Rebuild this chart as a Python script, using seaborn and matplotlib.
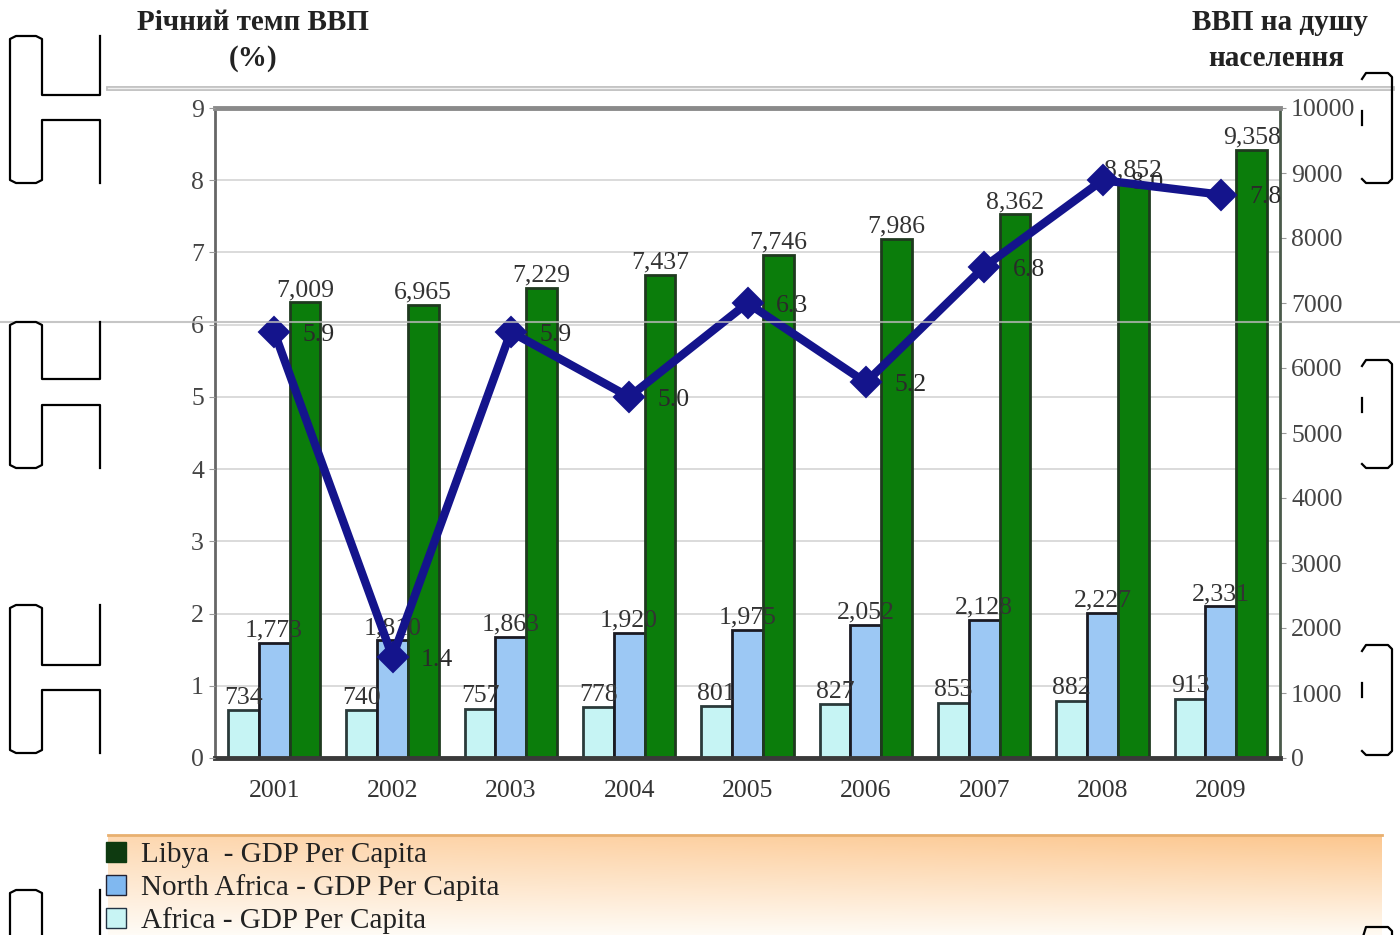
import numpy as np
import pandas as pd
import matplotlib
matplotlib.use('Agg')
from matplotlib import pyplot as plt
from matplotlib.patches import Patch
from matplotlib.lines import Line2D
import seaborn as sns

# data
years = ['2001', '2002', '2003', '2004', '2005', '2006', '2007', '2008', '2009']
growth = [5.9, 1.4, 5.9, 5.0, 6.3, 5.2, 6.8, 8.0, 7.8]
libya = [7009, 6965, 7229, 7437, 7746, 7986, 8362, 8852, 9358]
north_africa = [1773, 1810, 1863, 1920, 1975, 2052, 2128, 2227, 2331]
africa = [734, 740, 757, 778, 801, 827, 853, 882, 913]
series = ['Africa', 'North Africa', 'Libya']
legend_labels = ['Libya  - GDP Per Capita', 'North Africa - GDP Per Capita', 'Africa - GDP Per Capita']

plt.rcParams['font.family'] = ['Liberation Serif', 'DejaVu Serif']

W, H = 1400, 935
fig = plt.figure(figsize=(14, 9.35), dpi=100)


def fx(x):
    return x / W


def fy(y):
    return 1 - y / H


df = pd.DataFrame({'year': years * 3,
                   'gdp': africa + north_africa + libya,
                   'series': np.repeat(series, len(years))})

face = ['#c6f4f4', '#9cc8f4', '#0b7d0b']
edge = ['#2a3a3a', '#1a1a22', '#1f3a1f']

ax = fig.add_axes([fx(215), fy(758), fx(1280) - fx(215), fy(108) - fy(758)])
sns.barplot(data=df, x='year', y='gdp', hue='series', hue_order=series,
            palette=face, saturation=1, width=0.78, ax=ax, legend=False)

for cont, ec, vals in zip(ax.containers, edge, [africa, north_africa, libya]):
    for p in cont:
        p.set_edgecolor(ec)
        p.set_linewidth(2)
    ax.bar_label(cont, labels=[f'{v:,}' for v in vals], padding=1,
                 fontsize=18.5, color='#333', zorder=4)

ax2 = ax.twinx()
ax.yaxis.tick_right()
ax2.yaxis.tick_left()
sns.pointplot(x=years, y=growth, ax=ax2, color='#14148c', markers='D',
              errorbar=None, markersize=12.5, linewidth=6)

for i, v in enumerate(growth):
    ax2.annotate(f'{v:.1f}', xy=(i, v), xytext=(32, -2), textcoords='offset points',
                 ha='center', va='center', fontsize=18.5, color='#2a2a2a', zorder=1)

ax.set_xlim(-0.5, 8.5)
ax.set_ylim(0, 10000)
ax.set_yticks(range(0, 10001, 1000))
ax2.set_ylim(0, 9)
ax2.set_yticks(range(10))

# gridlines follow the left scale, behind the bars
ax.set_yticks(np.linspace(0, 10000, 10), minor=True)
ax.set_axisbelow(True)
ax.yaxis.grid(False, which='major')
ax.yaxis.grid(True, which='minor', color='#d4d4d4', lw=1.2)
ax.tick_params(axis='y', which='minor', length=0)

for a in (ax, ax2):
    a.tick_params(axis='y', which='major', labelsize=18.5, labelcolor='#444',
                  color='#999', length=4, pad=4)
    a.set_xlabel('')
    a.set_ylabel('')
ax.tick_params(axis='x', length=0, pad=16, labelsize=18.5, labelcolor='#333')

for s in ax2.spines.values():
    s.set_visible(False)
ax.spines['left'].set(color='#666', lw=2)
ax.spines['top'].set(color='#8a8a8a', lw=3.5)
ax.spines['right'].set(color='#4a5a4a', lw=2)
ax.spines['bottom'].set(color='#3a3a3a', lw=3.5)

# axis titles
tkw = dict(ha='center', va='center', fontsize=21, fontweight='bold', color='#222')
fig.text(fx(253), fy(22), 'Річний темп ВВП', **tkw)
fig.text(fx(253), fy(58), '(%)', **tkw)
fig.text(fx(1280), fy(22), 'ВВП на душу', **tkw)
fig.text(fx(1276), fy(58), 'населення', **tkw)

# rules across the page
fig.add_artist(Line2D([fx(108), fx(1392)], [fy(88), fy(88)], color='#c0c0c0', lw=3.5))
fig.add_artist(Line2D([fx(108), fx(1392)], [fy(88), fy(88)], color='#f0f0f0', lw=1))
fig.add_artist(Line2D([0, 1], [fy(322), fy(322)], color='#b8b8b8', lw=1.5, alpha=0.8))

# legend band
bg = fig.add_axes([fx(108), 0, fx(1382) - fx(108), fy(835)], zorder=-1)
top_c = np.array([0.99, 0.78, 0.56])
bot_c = np.array([1.0, 0.98, 0.95])
t = np.linspace(0, 1, 60)[:, None, None]
grad = top_c * (1 - t) + bot_c * t
horiz = np.linspace(0.7, 1, 100)[None, :, None]
grad = 1 - (1 - grad) * horiz
bg.imshow(grad, aspect='auto', extent=(0, 1, 0, 1))
bg.axis('off')
fig.add_artist(Line2D([fx(108), fx(1382)], [fy(835), fy(835)], color='#e8b070', lw=2))

handles = [Patch(fc='#0e3a10', ec='#0e3a10'),
           Patch(fc='#80b8f0', ec='#223'),
           Patch(fc='#c8f4f4', ec='#234')]
leg = fig.legend(handles, legend_labels, loc='upper left',
                 bbox_to_anchor=(fx(106), fy(842)), frameon=False, fontsize=21,
                 handlelength=0.7, handleheight=0.7, handletextpad=0.5,
                 labelspacing=0.2, borderpad=0, borderaxespad=0)
for txt in leg.get_texts():
    txt.set_color('#222')


# binder marks in the margins
def path(pts):
    fig.add_artist(Line2D([fx(p[0]) for p in pts], [fy(p[1]) for p in pts],
                          color='k', lw=1.6))


def left_mark(top, bot, a1, a2):
    path([(100, top), (100, a1), (42, a1), (42, top + 3), (36, top), (16, top),
          (10, top + 3), (10, bot - 3), (16, bot), (36, bot), (42, bot - 3),
          (42, a2), (100, a2), (100, bot)])


def right_mark(top, bot):
    path([(1362, top + 6), (1366, top), (1388, top), (1392, top + 4),
          (1392, bot - 4), (1388, bot), (1366, bot), (1362, bot - 4)])
    path([(1362, top + 38), (1362, top + 52)])


left_mark(36, 183, 95, 120)
left_mark(322, 468, 379, 405)
left_mark(605, 753, 665, 690)
path([(42, 950), (42, 893), (36, 890), (16, 890), (10, 893), (10, 950)])
path([(100, 890), (100, 950)])
right_mark(73, 183)
right_mark(360, 468)
right_mark(645, 755)
path([(1362, 940), (1366, 927), (1388, 927), (1392, 931), (1392, 950)])

fig.savefig('out.png', dpi=100)
